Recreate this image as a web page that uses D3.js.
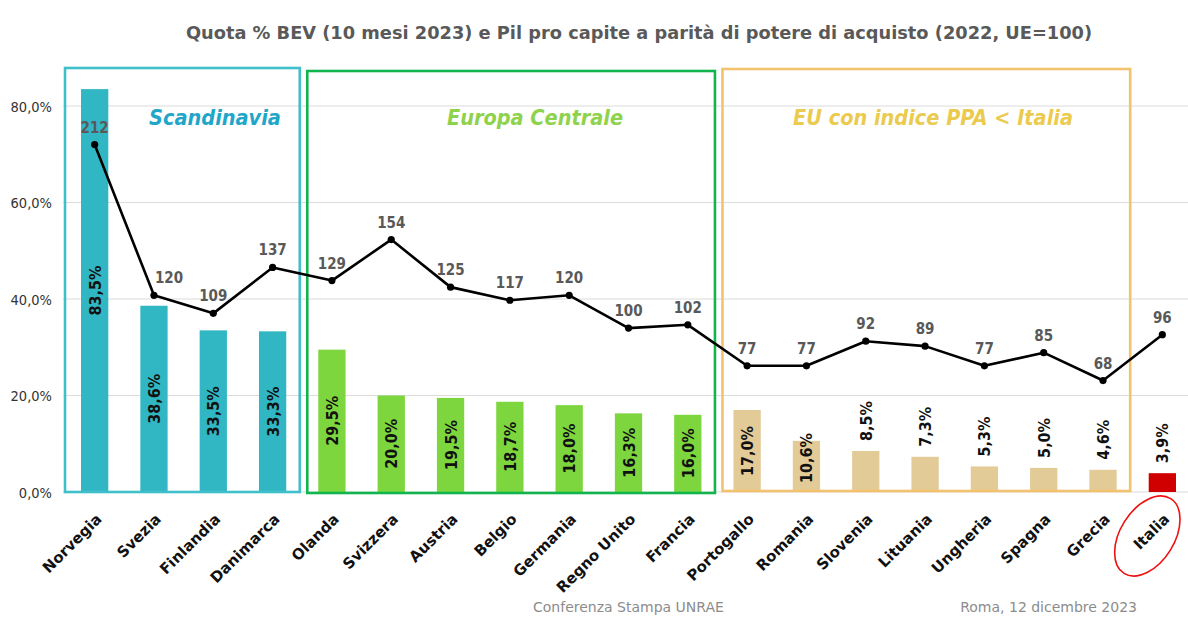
<!DOCTYPE html>
<html><head><meta charset="utf-8">
<script src="https://cdn.jsdelivr.net/npm/d3@7"></script>
<style>
html,body{margin:0;padding:0;background:#fff;}
svg{display:block;}
</style></head>
<body>
<svg id="chart" width="1188" height="624"></svg>
<script>
const countries = ["Norvegia","Svezia","Finlandia","Danimarca","Olanda","Svizzera","Austria","Belgio","Germania","Regno Unito","Francia","Portogallo","Romania","Slovenia","Lituania","Ungheria","Spagna","Grecia","Italia"];
const bevShare = [83.5,38.6,33.5,33.3,29.5,20.0,19.5,18.7,18.0,16.3,16.0,17.0,10.6,8.5,7.3,5.3,5.0,4.6,3.9];
const gdpPPA = [212,120,109,137,129,154,125,117,120,100,102,77,77,92,89,77,85,68,96];
const countryGroup = ["Scandinavia","Scandinavia","Scandinavia","Scandinavia",
  "Europa Centrale","Europa Centrale","Europa Centrale","Europa Centrale","Europa Centrale","Europa Centrale","Europa Centrale",
  "EU con indice PPA < Italia","EU con indice PPA < Italia","EU con indice PPA < Italia","EU con indice PPA < Italia","EU con indice PPA < Italia","EU con indice PPA < Italia","EU con indice PPA < Italia",
  "Italia"];
const boxGroups = ["Scandinavia","Europa Centrale","EU con indice PPA < Italia"];
const yTicks = [0,20,40,60,80];
const title = "Quota % BEV (10 mesi 2023) e Pil pro capite a parità di potere di acquisto (2022, UE=100)";
const footLeft = "Conferenza Stampa UNRAE";
const footRight = "Roma, 12 dicembre 2023";

const barColor = {"Scandinavia":"#31b7c3","Europa Centrale":"#7dd63e","EU con indice PPA < Italia":"#e3cb98","Italia":"#d00000"};
const boxColor = {"Scandinavia":"#3fbfca","Europa Centrale":"#12b44e","EU con indice PPA < Italia":"#f3c26e"};
const labelColor = {"Scandinavia":"#1fa6c8","Europa Centrale":"#8fd24c","EU con indice PPA < Italia":"#ebcb4f"};

const svg = d3.select("#chart");
const F = "'DejaVu Sans Condensed','DejaVu Sans',sans-serif";
const FW = "'DejaVu Sans',sans-serif";

const x = d3.scaleBand().domain(countries).range([65,1192]).paddingInner(0.54).paddingOuter(0.27);
const y = d3.scaleLinear().domain([0,80]).range([492,106]);
const y2 = d3.scaleLinear().domain([0,240]).range([492, 492 - 240*1.639]);
const cx = c => x(c) + x.bandwidth()/2;

// title
svg.append("text").attr("x",639).attr("y",39).attr("text-anchor","middle")
  .attr("font-family",FW).attr("font-weight","bold").attr("font-size",17.8).attr("fill","#595959")
  .text(title);

// gridlines
svg.append("g").selectAll("line").data(yTicks).join("line")
  .attr("x1",63).attr("x2",1188).attr("y1",d=>y(d)).attr("y2",d=>y(d))
  .attr("stroke","#dcdcdc").attr("stroke-width",1.2);

// y axis
const yAxis = d3.axisLeft(y).tickValues(yTicks).tickSize(0).tickPadding(0)
  .tickFormat(d => d3.format(".1f")(d).replace(".",",") + "%");
const ga = svg.append("g").attr("transform","translate(52,0)").call(yAxis);
ga.select(".domain").remove();
ga.selectAll("text").attr("font-family",F).attr("font-size",14.5).attr("fill","#333").attr("dy","0.35em");

// bars
svg.append("g").selectAll("rect").data(countries).join("rect")
  .attr("x",d=>x(d)).attr("width",x.bandwidth())
  .attr("y",(d,i)=>y(bevShare[i])).attr("height",(d,i)=>y(0)-y(bevShare[i]))
  .attr("fill",(d,i)=>barColor[countryGroup[i]]);

// group boxes
boxGroups.forEach((g,gi) => {
  const members = countries.filter((c,i)=>countryGroup[i]===g);
  const first = members[0], last = members[members.length-1];
  const left = gi===0 ? x(first) - 16 : x(first) - 11;
  const right = x(last) + x.bandwidth() + 13.5;
  const top = [68,71,69][gi], bottom = [492,493,491][gi];
  svg.append("rect").attr("x",left).attr("y",top).attr("width",right-left).attr("height",bottom-top)
    .attr("fill","none").attr("stroke",boxColor[g]).attr("stroke-width",2.6);
  const lx = [215,535,933][gi];
  svg.append("text").attr("x",lx).attr("y",125).attr("text-anchor","middle")
    .attr("font-family",F).attr("font-style","italic").attr("font-weight","bold")
    .attr("font-size",21.5).attr("fill",labelColor[g]).text(g);
});

// bar value labels
const bl = svg.append("g");
countries.forEach((c,i) => {
  const v = bevShare[i];
  const h = y(0) - y(v);
  const txt = d3.format(".1f")(v).replace(".",",") + "%";
  const t = bl.append("text").attr("font-family",F).attr("font-weight","bold")
    .attr("font-size",16).attr("fill","#111").text(txt);
  if (h >= 45) {
    let mid = (y(v) + y(0))/2;
    mid = Math.min(mid, y(0) - 8 - 26);
    t.attr("text-anchor","middle").attr("transform",`translate(${cx(c)+6},${mid}) rotate(-90)`);
  } else {
    t.attr("text-anchor","start").attr("transform",`translate(${cx(c)+6},${y(v)-10}) rotate(-90)`);
  }
});

// line
const line = d3.line().x((d,i)=>cx(countries[i])).y(d=>y2(d));
svg.append("path").datum(gdpPPA).attr("d",line).attr("fill","none")
  .attr("stroke","#000").attr("stroke-width",2.6).attr("stroke-linejoin","round");
svg.append("g").selectAll("circle").data(gdpPPA).join("circle")
  .attr("cx",(d,i)=>cx(countries[i])).attr("cy",d=>y2(d)).attr("r",3.6).attr("fill","#000");
svg.append("g").selectAll("text").data(gdpPPA).join("text")
  .attr("x",(d,i)=>cx(countries[i]) + (i>0 && gdpPPA[i-1]-d > 50 ? 15 : 0))
  .attr("y",(d,i)=>y2(d) - 12).attr("text-anchor","middle")
  .attr("font-family",F).attr("font-weight","bold").attr("font-size",15).attr("fill","#595959")
  .text(d=>d);

// x labels
svg.append("g").selectAll("text").data(countries).join("text")
  .attr("transform",d=>`translate(${cx(d)+8},520) rotate(-45)`)
  .attr("text-anchor","end").attr("font-family",FW).attr("font-weight","bold")
  .attr("font-size",15).attr("fill","#111").text(d=>d);

// highlight ellipse on Italia
svg.append("ellipse").attr("cx",cx("Italia")-15).attr("cy",536).attr("rx",27).attr("ry",44)
  .attr("transform",`rotate(32,${cx("Italia")-15},536)`)
  .attr("fill","none").attr("stroke","#ee1111").attr("stroke-width",1.6);

// footer
svg.append("text").attr("x",533).attr("y",612).attr("font-family",FW).attr("font-size",14)
  .attr("fill","#8c8c8c").text(footLeft);
svg.append("text").attr("x",1137).attr("y",612).attr("text-anchor","end").attr("font-family",FW).attr("font-size",14)
  .attr("fill","#8c8c8c").text(footRight);
</script>
</body></html>
